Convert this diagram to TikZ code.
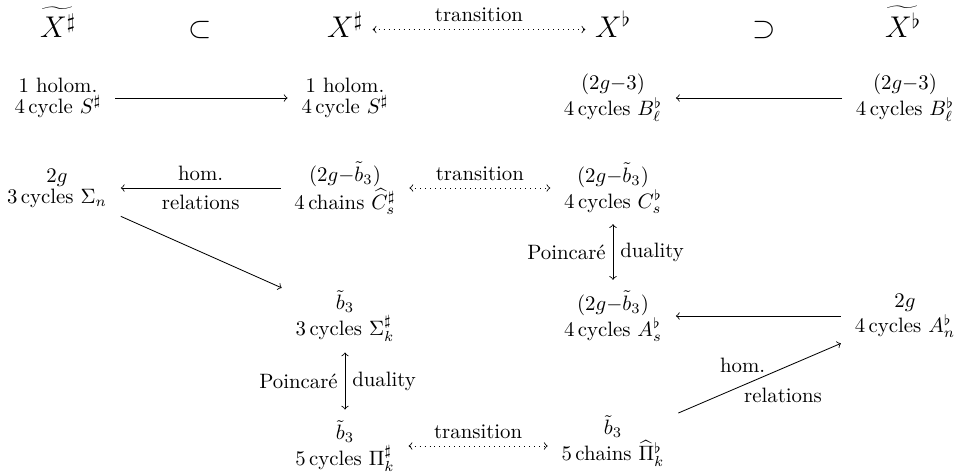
\documentclass[tikz,border=0pt]{standalone}
\newcommand{\twol}[2]{\vbox{\baselineskip=0pt\lineskip=1.2pt\lineskiplimit=0pt\halign{\hfil##\hfil\cr#1\cr#2\cr}}}
\begin{document}
\begin{tikzpicture}[x=0.4808pt, y=-0.4808pt,
  one/.style={inner sep=4.5pt, anchor=base, font=\Large, text height=10pt, text depth=2.8pt},
  two/.style={inner xsep=6.5pt, inner ysep=5pt},
  arr/.style={->},
  darr/.style={<->},
  tarr/.style={<->, dotted}
]
\useasboundingbox (0,0) rectangle (961,475);
% row 1
\node[one] (Xts) at (58,37) {$\widetilde{X^\sharp}$};
\node[one] (sub) at (200,37) {$\subset$};
\node[one] (Xs) at (345,37) {$X^\sharp$};
\node[one] (Xf) at (613,37) {$X^\flat$};
\node[one] (sup) at (764,37) {$\supset$};
\node[one] (Xtf) at (903,37) {$\widetilde{X^\flat}$};
% row 2
\node[two] (r2c1) at (58,98) {\twol{1 holom.}{$4\,$cycle $S^\sharp$}};
\node[two] (r2c2) at (345,98) {\twol{1 holom.}{$4\,$cycle $S^\sharp$}};
\node[two] (r2c3) at (613,98) {\twol{$(2g{-}3)$}{$4\,$cycles $B^\flat_\ell$}};
\node[two] (r2c4) at (905,98) {\twol{$(2g{-}3)$}{$4\,$cycles $B^\flat_\ell$}};
% row 3
\node[two] (r3c1) at (57,188) {\twol{$2g$}{$3\,$cycles $\Sigma_n$}};
\node[two] (r3c2) at (345,188) {\twol{$(2g{-}\tilde b_3)$}{$4\,$chains $\widehat{C}^\sharp_s$}};
\node[two] (r3c3) at (613,188) {\twol{$(2g{-}\tilde b_3)$}{$4\,$cycles $C^\flat_s$}};
% row 4
\node[two] (r4c2) at (345,316) {\twol{$\tilde b_3$}{$3\,$cycles $\Sigma^\sharp_k$}};
\node[two] (r4c3) at (613,316) {\twol{$(2g{-}\tilde b_3)$}{$4\,$cycles $A^\flat_s$}};
\node[two] (r4c4) at (905,316) {\twol{$2g$}{$4\,$cycles $A^\flat_n$}};
% row 5
\node[two] (r5c2) at (345,446) {\twol{$\tilde b_3$}{$5\,$cycles $\Pi^\sharp_k$}};
\node[two] (r5c3) at (613,441) {\twol{$\tilde b_3$}{$5\,$chains $\widehat{\Pi}^\flat_k$}};
% arrows
\draw[tarr] (Xs) -- (Xf) node[midway, above] {transition};
\draw[arr] (r2c1) -- (r2c2);
\draw[arr] (r2c4) -- (r2c3);
\draw[arr] (r3c2) -- (r3c1) node[midway, above] {hom.} node[midway, below] {relations};
\draw[tarr] (r3c2) -- (r3c3) node[midway, above] {transition};
\draw[arr] (r3c1) -- (r4c2);
\draw[darr] (r3c3) -- (r4c3) node[midway, left] {Poincaré} node[midway, right] {duality};
\draw[arr] (r4c4) -- (r4c3);
\draw[darr] (r4c2) -- (r5c2) node[midway, left] {Poincaré} node[midway, right] {duality};
\draw[tarr] (r5c2.east) -- (r5c2.east -| r5c3.west) node[midway, above] {transition};
\draw[arr] (r5c3) -- (r4c4)
  node[pos=0.55, anchor=south east, inner sep=1pt] {hom.}
  node[pos=0.39, anchor=north west, inner sep=1pt] {relations};
\end{tikzpicture}
\end{document}
